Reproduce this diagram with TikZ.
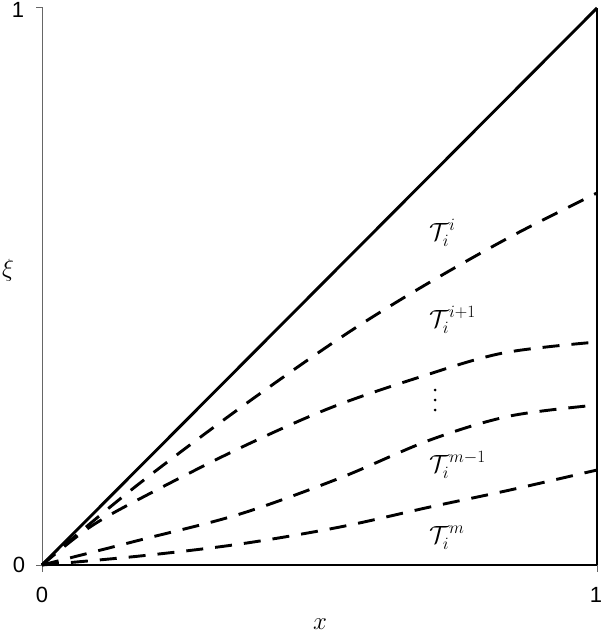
\documentclass[tikz,border=0pt]{standalone}
\usepackage{fontspec}
\newfontfamily\numfont{Liberation Sans}
\begin{document}
\begin{tikzpicture}[x=1pt,y=-1pt,
  thickline/.style={line width=2.9pt},
  curve/.style={line width=2.9pt, dash pattern=on 17pt off 12pt, smooth, tension=0.55},
  axisline/.style={line width=1pt, draw=black!60},
  num/.style={font=\numfont\fontsize{22}{24}\selectfont, inner sep=0pt},
  lab/.style={font=\fontsize{27}{31}\selectfont, inner sep=0pt, anchor=base west}]
\useasboundingbox (0,0) rectangle (601,634);
\coordinate (O) at (42,565);
\coordinate (TL) at (42,8);
\coordinate (TR) at (597,8);
\coordinate (BR) at (597,565);
% axes
\draw[axisline] (O) -- (TL) -- ++(-6,0);
\draw[axisline] (O) -- ++(-6,0);
\draw[axisline] (O) -- ++(0,7);
\draw[axisline] (BR) -- ++(0,7);
\draw[thickline] (O) -- (BR);
\draw[thickline] (BR) -- (TR);
\draw[thickline] (O) -- (TR);
% curves
\draw[curve] plot coordinates {(42,565) (67,543) (140,483) (240,408) (340,338) (420,288) (510,237) (597,193)};
\draw[curve] plot coordinates {(42,565) (90,527) (147,495) (240,448) (330,408) (420,377) (503,353) (597,342)};
\draw[curve] plot coordinates {(42,565) (140,540) (240,514) (340,478) (430,440) (510,416) (597,405)};
\draw[curve] plot coordinates {(42,565) (140,556) (240,544) (340,527) (430,507) (510,490) (597,470)};
% tick labels
\node[num] (y1) at (18,10) {1};
\node[num] (y0) at (19,565) {0};
\node[num] (x0) at (42,595) {0};
\node[num] (x1) at (596,595) {1};
\node[font=\fontsize{24}{28}\selectfont, inner sep=0pt] (xi) at (8,270) {$\xi$};
\node[font=\fontsize{26}{30}\selectfont, inner sep=0pt, anchor=base] (xl) at (320,629) {$x$};
% region labels
\node[lab] (t1) at (429,240) {$\mathcal{T}_i^{i}$};
\node[lab] (t2) at (429,327) {$\mathcal{T}_i^{i+1}$};
\foreach \yy in {390,400,410} \fill (435,\yy) circle (1.5pt);
\node[lab] (t3) at (429,472) {$\mathcal{T}_i^{m-1}$};
\node[lab] (t4) at (429,543) {$\mathcal{T}_i^{m}$};
\end{tikzpicture}
\end{document}
